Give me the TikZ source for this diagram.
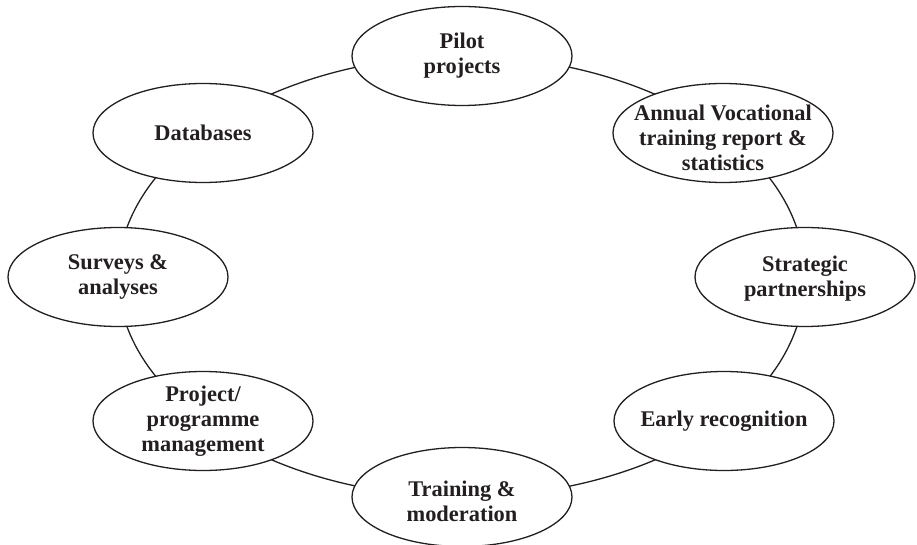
\documentclass[tikz,border=0pt]{standalone}
\usepackage{fontspec}
\setmainfont{Liberation Serif}
\usetikzlibrary{shapes.geometric,backgrounds}
\definecolor{ink}{HTML}{231F20}
\tikzset{
  bubble/.style={ellipse, draw=ink, line width=1.3pt, fill=white,
    minimum width=220pt, minimum height=99pt, inner sep=0pt},
  lbl/.style={align=center, text=ink, inner sep=0pt,
    font=\fontsize{22.4pt}{25pt}\selectfont\bfseries},
  ring/.style={draw=ink, line width=1.3pt}
}
\begin{document}
\begin{tikzpicture}[x=1pt,y=1pt]
\useasboundingbox (0,0) rectangle (917,544);
\node[bubble, label={[lbl]center:Pilot\\projects}] (pilot) at (462,488) {};
\node[bubble, label={[lbl, yshift=-5pt]center:Annual Vocational\\training report \&\\statistics}] (annual) at (723,411) {};
\node[bubble, label={[lbl, yshift=-2pt]center:Strategic\\partnerships}] (strat) at (805,267) {};
\node[bubble, label={[lbl]center:Early recognition}] (early) at (724,123) {};
\node[bubble, label={[lbl, yshift=-4pt]center:Training \&\\moderation}] (train) at (462,47) {};
\node[bubble, label={[lbl]center:Project/\\programme\\management}] (proj) at (203,123) {};
\node[bubble, label={[lbl]center:Surveys \&\\analyses}] (surv) at (118,267) {};
\node[bubble, label={[lbl]center:Databases}] (db) at (203,411) {};
\begin{scope}[on background layer]
\draw[ring] (pilot.center) to[out=0, in=143.4, out looseness=0.94, in looseness=0.76] (annual.center);
\draw[ring] (annual.center) to[out=-36.6, in=90, out looseness=1.04, in looseness=0.82] (strat.center);
\draw[ring] (strat.center) to[out=-90, in=36.6, out looseness=0.82, in looseness=1.04] (early.center);
\draw[ring] (early.center) to[out=216.6, in=0, out looseness=0.76, in looseness=0.94] (train.center);
\draw[ring] (train.center) to[out=180, in=-36.6, out looseness=0.94, in looseness=0.76] (proj.center);
\draw[ring] (proj.center) to[out=143.4, in=-90, out looseness=1.04, in looseness=0.82] (surv.center);
\draw[ring] (surv.center) to[out=90, in=216.6, out looseness=0.82, in looseness=1.04] (db.center);
\draw[ring] (db.center) to[out=36.6, in=180, out looseness=0.76, in looseness=0.94] (pilot.center);
\end{scope}
\end{tikzpicture}
\end{document}
